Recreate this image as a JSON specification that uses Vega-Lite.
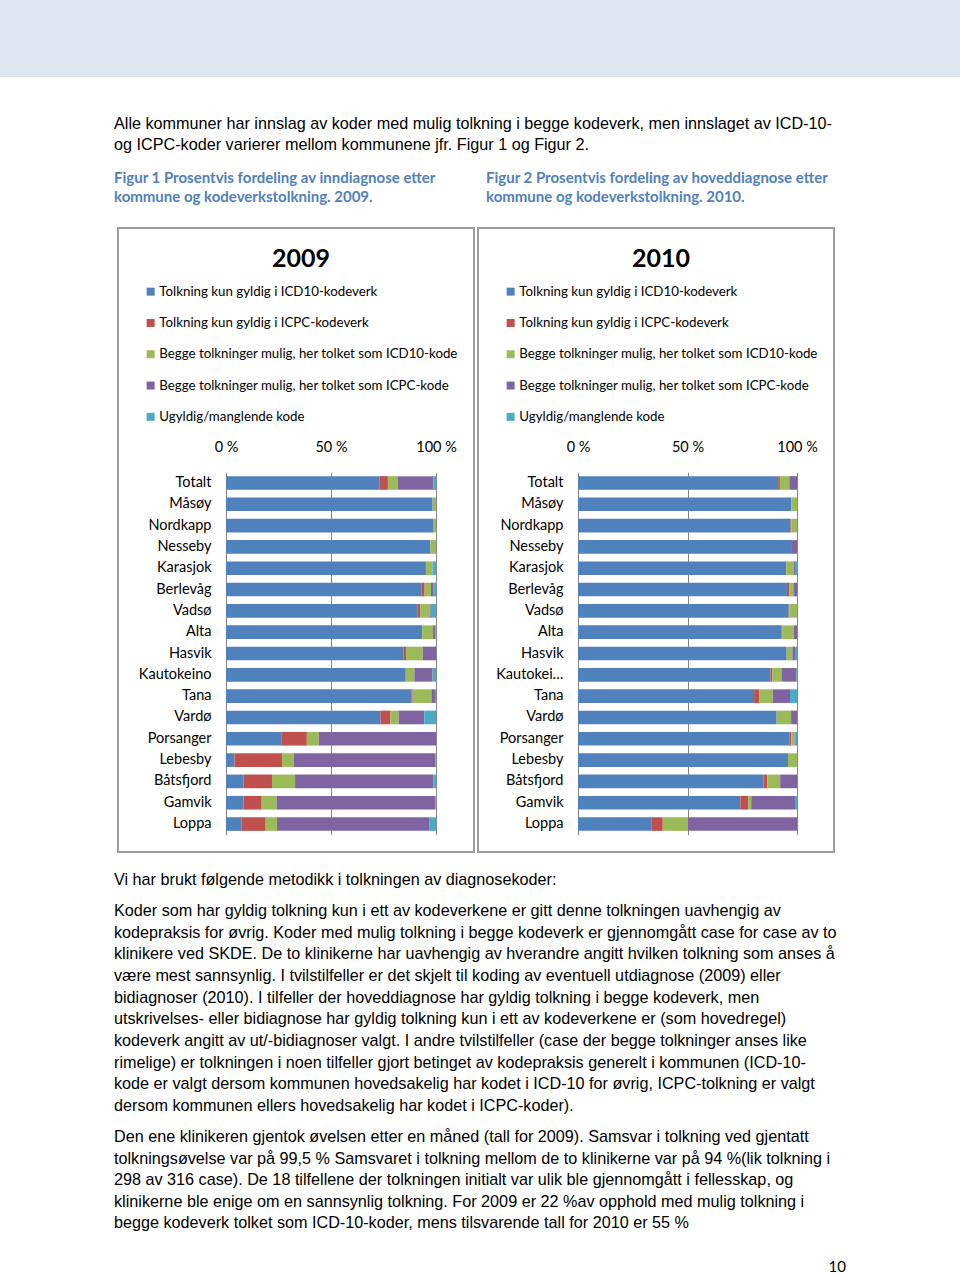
{
  "$schema": "https://vega.github.io/schema/vega-lite/v6.json",
  "padding": 0,
  "spacing": 0,
  "bounds": "flush",
  "background": "#ffffff",
  "config": {"view": {"stroke": null}, "font": "Liberation Sans"},
  "datasets": {
    "y2009": [
      {"k": "Totalt", "a": 73.0, "b": 4.1, "c": 4.8, "d": 16.8, "e": 1.3},
      {"k": "Måsøy", "a": 98.4, "b": 0, "c": 1.6, "d": 0, "e": 0},
      {"k": "Nordkapp", "a": 98.9, "b": 0, "c": 1.1, "d": 0, "e": 0},
      {"k": "Nesseby", "a": 97.3, "b": 0, "c": 2.7, "d": 0, "e": 0},
      {"k": "Karasjok", "a": 95.2, "b": 0, "c": 3.1, "d": 0, "e": 1.7},
      {"k": "Berlevåg", "a": 93.0, "b": 1.6, "c": 3.0, "d": 1.3, "e": 1.1},
      {"k": "Vadsø", "a": 91.3, "b": 1.2, "c": 4.5, "d": 0.5, "e": 2.5},
      {"k": "Alta", "a": 92.9, "b": 0.5, "c": 5.2, "d": 1.1, "e": 0.3},
      {"k": "Hasvik", "a": 84.6, "b": 1.1, "c": 8.0, "d": 6.3, "e": 0},
      {"k": "Kautokeino", "a": 85.6, "b": 0, "c": 4.1, "d": 8.7, "e": 1.6},
      {"k": "Tana", "a": 88.4, "b": 0.5, "c": 8.9, "d": 1.7, "e": 0.5},
      {"k": "Vardø", "a": 73.5, "b": 4.8, "c": 3.9, "d": 12.2, "e": 5.6},
      {"k": "Porsanger", "a": 26.3, "b": 12.2, "c": 5.7, "d": 55.8, "e": 0},
      {"k": "Lebesby", "a": 4.0, "b": 22.7, "c": 5.5, "d": 67.5, "e": 0.3},
      {"k": "Båtsfjord", "a": 8.4, "b": 13.5, "c": 11.0, "d": 65.8, "e": 1.3},
      {"k": "Gamvik", "a": 8.4, "b": 8.6, "c": 7.1, "d": 75.6, "e": 0.3},
      {"k": "Loppa", "a": 7.3, "b": 11.6, "c": 5.4, "d": 72.4, "e": 3.3}
    ],
    "y2010": [
      {"k": "Totalt", "a": 91.4, "b": 0.8, "c": 4.3, "d": 3.5, "e": 0},
      {"k": "Måsøy", "a": 97.4, "b": 0, "c": 2.6, "d": 0, "e": 0},
      {"k": "Nordkapp", "a": 97.0, "b": 0.4, "c": 2.6, "d": 0, "e": 0},
      {"k": "Nesseby", "a": 97.7, "b": 0, "c": 0, "d": 2.3, "e": 0},
      {"k": "Karasjok", "a": 95.1, "b": 0, "c": 3.4, "d": 0.6, "e": 0.9},
      {"k": "Berlevåg", "a": 95.4, "b": 1.0, "c": 2.0, "d": 1.6, "e": 0},
      {"k": "Vadsø", "a": 96.2, "b": 0.3, "c": 3.5, "d": 0, "e": 0},
      {"k": "Alta", "a": 92.9, "b": 0.3, "c": 5.4, "d": 1.4, "e": 0},
      {"k": "Hasvik", "a": 95.3, "b": 0, "c": 2.6, "d": 1.2, "e": 0.9},
      {"k": "Kautokeino", "a": 87.9, "b": 0.9, "c": 4.1, "d": 6.8, "e": 0.3},
      {"k": "Tana", "a": 80.4, "b": 2.3, "c": 6.2, "d": 7.9, "e": 3.2},
      {"k": "Vardø", "a": 90.7, "b": 0, "c": 6.6, "d": 2.7, "e": 0},
      {"k": "Porsanger", "a": 96.5, "b": 0.9, "c": 1.5, "d": 0.5, "e": 0.6},
      {"k": "Lebesby", "a": 95.9, "b": 0, "c": 4.1, "d": 0, "e": 0},
      {"k": "Båtsfjord", "a": 84.7, "b": 1.8, "c": 5.8, "d": 7.7, "e": 0},
      {"k": "Gamvik", "a": 74.1, "b": 3.6, "c": 1.4, "d": 20.0, "e": 0.9},
      {"k": "Loppa", "a": 33.7, "b": 5.0, "c": 11.5, "d": 49.8, "e": 0}
    ],
    "txt": [
      {"b": "intro", "c": 0, "l": 0, "t": "Alle kommuner har innslag av koder med mulig tolkning i begge kodeverk, men innslaget av ICD-10-"},
      {"b": "intro", "c": 0, "l": 1, "t": "og ICPC-koder varierer mellom kommunene jfr. Figur 1 og Figur 2."},
      {"b": "cap", "c": 0, "l": 0, "t": "Figur 1 Prosentvis fordeling av inndiagnose etter"},
      {"b": "cap", "c": 0, "l": 1, "t": "kommune og kodeverkstolkning. 2009."},
      {"b": "cap", "c": 1, "l": 0, "t": "Figur 2 Prosentvis fordeling av hoveddiagnose etter"},
      {"b": "cap", "c": 1, "l": 1, "t": "kommune og kodeverkstolkning. 2010."},
      {"b": "p1", "c": 0, "l": 0, "t": "Vi har brukt følgende metodikk i tolkningen av diagnosekoder:"},
      {"b": "p2", "c": 0, "l": 0, "t": "Koder som har gyldig tolkning kun i ett av kodeverkene er gitt denne tolkningen uavhengig av"},
      {"b": "p2", "c": 0, "l": 1, "t": "kodepraksis for øvrig. Koder med mulig tolkning i begge kodeverk er gjennomgått case for case av to"},
      {"b": "p2", "c": 0, "l": 2, "t": "klinikere ved SKDE. De to klinikerne har uavhengig av hverandre angitt hvilken tolkning som anses å"},
      {"b": "p2", "c": 0, "l": 3, "t": "være mest sannsynlig. I tvilstilfeller er det skjelt til koding av eventuell utdiagnose (2009) eller"},
      {"b": "p2", "c": 0, "l": 4, "t": "bidiagnoser (2010). I tilfeller der hoveddiagnose har gyldig tolkning i begge kodeverk, men"},
      {"b": "p2", "c": 0, "l": 5, "t": "utskrivelses- eller bidiagnose har gyldig tolkning kun i ett av kodeverkene er (som hovedregel)"},
      {"b": "p2", "c": 0, "l": 6, "t": "kodeverk angitt av ut/-bidiagnoser valgt. I andre tvilstilfeller (case der begge tolkninger anses like"},
      {"b": "p2", "c": 0, "l": 7, "t": "rimelige) er tolkningen i noen tilfeller gjort betinget av kodepraksis generelt i kommunen (ICD-10-"},
      {"b": "p2", "c": 0, "l": 8, "t": "kode er valgt dersom kommunen hovedsakelig har kodet i ICD-10 for øvrig, ICPC-tolkning er valgt"},
      {"b": "p2", "c": 0, "l": 9, "t": "dersom kommunen ellers hovedsakelig har kodet i ICPC-koder)."},
      {"b": "p3", "c": 0, "l": 0, "t": "Den ene klinikeren gjentok øvelsen etter en måned (tall for 2009). Samsvar i tolkning ved gjentatt"},
      {"b": "p3", "c": 0, "l": 1, "t": "tolkningsøvelse var på 99,5 % Samsvaret i tolkning mellom de to klinikerne var på 94 %(lik tolkning i"},
      {"b": "p3", "c": 0, "l": 2, "t": "298 av 316 case). De 18 tilfellene der tolkningen initialt var ulik ble gjennomgått i fellesskap, og"},
      {"b": "p3", "c": 0, "l": 3, "t": "klinikerne ble enige om en sannsynlig tolkning. For 2009 er 22 %av opphold med mulig tolkning i"},
      {"b": "p3", "c": 0, "l": 4, "t": "begge kodeverk tolket som ICD-10-koder, mens tilsvarende tall for 2010 er 55 %"},
      {"b": "pg", "c": 1, "l": 0, "t": "10"}
    ]
  },
  "vconcat": [
    {
      "width": 960, "height": 77,
      "view": {"fill": "#dce5f0", "stroke": null},
      "data": {"values": []},
      "mark": "point"
    },
    {
      "hconcat": [
        {
          "width": 114, "height": 1,
          "view": {"stroke": null},
          "data": {"values": []},
          "mark": "point"
        },
        {
          "vconcat": [
            {
              "width": 840, "height": 150,
              "view": {"stroke": null},
              "data": {"name": "txt"},
              "layer": [
                {
                  "transform": [{"filter": "datum.b == 'intro'"}],
                  "mark": {"type": "text", "align": "left", "baseline": "middle", "font": "Liberation Sans", "fontSize": 16.2, "color": "#000000"},
                  "encoding": {
                    "x": {"field": "c", "type": "quantitative", "axis": null, "scale": {"domain": [0, 1], "range": [0, 372], "nice": false, "zero": false}},
                    "y": {"field": "l", "type": "quantitative", "axis": null, "scale": {"domain": [0, 1], "range": [47, 68], "nice": false, "zero": false}},
                    "text": {"field": "t"}
                  }
                },
                {
                  "transform": [{"filter": "datum.b == 'cap'"}],
                  "mark": {"type": "text", "align": "left", "baseline": "middle", "font": "Lato", "fontWeight": "bold", "fontSize": 15, "color": "#4f81bd"},
                  "encoding": {
                    "x": {"field": "c", "type": "quantitative", "axis": null, "scale": {"domain": [0, 1], "range": [0, 372], "nice": false, "zero": false}},
                    "y": {"field": "l", "type": "quantitative", "axis": null, "scale": {"domain": [0, 1], "range": [101, 120], "nice": false, "zero": false}},
                    "text": {"field": "t"}
                  }
                }
              ],
              "resolve": {"scale": {"y": "independent"}}
            },
            {
              "hconcat": [
                {
                  "width": 4, "height": 624,
                  "view": {"stroke": null},
                  "data": {"values": []},
                  "mark": "point"
                },
                {
                  "width": 356, "height": 624,
                  "view": {"stroke": "#9c9c9c", "strokeWidth": 2},
                  "data": {"name": "y2009"},
                  "transform": [{"fold": ["a", "b", "c", "d", "e"], "as": ["cat", "pct"]}],
                  "mark": {"type": "bar"},
                  "encoding": {
                    "y": {"field": "k", "type": "nominal", "sort": null, "title": null,
                      "scale": {"range": [244.3, 606.7], "paddingInner": 0.36, "paddingOuter": 0.18},
                      "axis": {"orient": "left", "offset": -108, "ticks": false, "labelPadding": 15, "domainColor": "#868686", "domainWidth": 1, "labelFont": "Lato", "labelFontSize": 14.5, "labelColor": "#000000", "grid": false, "labelLimit": 200}},
                    "x": {"field": "pct", "type": "quantitative", "stack": "zero", "title": null,
                      "scale": {"domain": [0, 100], "range": [108, 318], "nice": false},
                      "axis": {"orient": "top", "offset": -230, "values": [0, 50, 100], "labelExpr": "datum.value + ' %'", "domain": false, "ticks": false, "labelPadding": 4, "grid": true, "gridColor": "#868686", "gridWidth": 1, "labelFont": "Lato", "labelFontSize": 14.5, "labelColor": "#000000", "labelFlush": false}},
                    "color": {"field": "cat", "type": "nominal",
                      "scale": {"domain": ["a", "b", "c", "d", "e"], "range": ["#4f81bd", "#c0504d", "#9bbb59", "#8064a2", "#4bacc6"]},
                      "legend": {"orient": "none", "legendX": 26, "legendY": 19, "direction": "vertical", "title": "2009", "titleFont": "Lato", "titleFontSize": 25, "titleFontWeight": "bold", "titleColor": "#000000", "titleAnchor": "middle", "titlePadding": 13, "labelFont": "Lato", "labelFontSize": 13.3, "labelColor": "#000000", "labelLimit": 400, "labelOffset": 2, "symbolType": "square", "symbolSize": 64, "symbolStrokeWidth": 0, "rowPadding": 17.3,
                        "labelExpr": "datum.label == 'a' ? 'Tolkning kun gyldig i ICD10-kodeverk' : datum.label == 'b' ? 'Tolkning kun gyldig i ICPC-kodeverk' : datum.label == 'c' ? 'Begge tolkninger mulig, her tolket som ICD10-kode' : datum.label == 'd' ? 'Begge tolkninger mulig, her tolket som ICPC-kode' : 'Ugyldig/manglende kode'"}},
                    "order": {"field": "cat", "type": "nominal", "sort": "ascending"}
                  }
                },
                {
                  "width": 4, "height": 624,
                  "view": {"stroke": null},
                  "data": {"values": []},
                  "mark": "point"
                },
                {
                  "width": 356, "height": 624,
                  "view": {"stroke": "#9c9c9c", "strokeWidth": 2},
                  "data": {"name": "y2010"},
                  "transform": [{"fold": ["a", "b", "c", "d", "e"], "as": ["cat", "pct"]}],
                  "mark": {"type": "bar"},
                  "encoding": {
                    "y": {"field": "k", "type": "nominal", "sort": null, "title": null,
                      "scale": {"range": [244.3, 606.7], "paddingInner": 0.36, "paddingOuter": 0.18},
                      "axis": {"orient": "left", "offset": -100, "ticks": false, "labelPadding": 15, "domainColor": "#868686", "domainWidth": 1, "labelFont": "Lato", "labelFontSize": 14.5, "labelColor": "#000000", "grid": false, "labelLimit": 68}},
                    "x": {"field": "pct", "type": "quantitative", "stack": "zero", "title": null,
                      "scale": {"domain": [0, 100], "range": [100, 319], "nice": false},
                      "axis": {"orient": "top", "offset": -230, "values": [0, 50, 100], "labelExpr": "datum.value + ' %'", "domain": false, "ticks": false, "labelPadding": 4, "grid": true, "gridColor": "#868686", "gridWidth": 1, "labelFont": "Lato", "labelFontSize": 14.5, "labelColor": "#000000", "labelFlush": false}},
                    "color": {"field": "cat", "type": "nominal",
                      "scale": {"domain": ["a", "b", "c", "d", "e"], "range": ["#4f81bd", "#c0504d", "#9bbb59", "#8064a2", "#4bacc6"]},
                      "legend": {"orient": "none", "legendX": 26, "legendY": 19, "direction": "vertical", "title": "2010", "titleFont": "Lato", "titleFontSize": 25, "titleFontWeight": "bold", "titleColor": "#000000", "titleAnchor": "middle", "titlePadding": 13, "labelFont": "Lato", "labelFontSize": 13.3, "labelColor": "#000000", "labelLimit": 400, "labelOffset": 2, "symbolType": "square", "symbolSize": 64, "symbolStrokeWidth": 0, "rowPadding": 17.3,
                        "labelExpr": "datum.label == 'a' ? 'Tolkning kun gyldig i ICD10-kodeverk' : datum.label == 'b' ? 'Tolkning kun gyldig i ICPC-kodeverk' : datum.label == 'c' ? 'Begge tolkninger mulig, her tolket som ICD10-kode' : datum.label == 'd' ? 'Begge tolkninger mulig, her tolket som ICPC-kode' : 'Ugyldig/manglende kode'"}},
                    "order": {"field": "cat", "type": "nominal", "sort": "ascending"}
                  }
                }
              ],
              "spacing": 0,
              "bounds": "flush",
              "resolve": {"scale": {"color": "independent"}, "legend": {"color": "independent"}}
            },
            {
              "width": 840, "height": 424,
              "view": {"stroke": null},
              "data": {"name": "txt"},
              "layer": [
                {
                  "transform": [{"filter": "datum.b == 'p1'"}],
                  "mark": {"type": "text", "align": "left", "baseline": "middle", "font": "Liberation Sans", "fontSize": 16.2, "color": "#000000"},
                  "encoding": {
                    "x": {"field": "c", "type": "quantitative", "axis": null, "scale": {"domain": [0, 1], "range": [0, 732], "nice": false, "zero": false}},
                    "y": {"field": "l", "type": "quantitative", "axis": null, "scale": {"domain": [0, 1], "range": [27, 48.7], "nice": false, "zero": false}},
                    "text": {"field": "t"}
                  }
                },
                {
                  "transform": [{"filter": "datum.b == 'p2'"}],
                  "mark": {"type": "text", "align": "left", "baseline": "middle", "font": "Liberation Sans", "fontSize": 16.2, "color": "#000000"},
                  "encoding": {
                    "x": {"field": "c", "type": "quantitative", "axis": null, "scale": {"domain": [0, 1], "range": [0, 732], "nice": false, "zero": false}},
                    "y": {"field": "l", "type": "quantitative", "axis": null, "scale": {"domain": [0, 9], "range": [58, 253], "nice": false, "zero": false}},
                    "text": {"field": "t"}
                  }
                },
                {
                  "transform": [{"filter": "datum.b == 'p3'"}],
                  "mark": {"type": "text", "align": "left", "baseline": "middle", "font": "Liberation Sans", "fontSize": 16.2, "color": "#000000"},
                  "encoding": {
                    "x": {"field": "c", "type": "quantitative", "axis": null, "scale": {"domain": [0, 1], "range": [0, 732], "nice": false, "zero": false}},
                    "y": {"field": "l", "type": "quantitative", "axis": null, "scale": {"domain": [0, 4], "range": [284, 370], "nice": false, "zero": false}},
                    "text": {"field": "t"}
                  }
                },
                {
                  "transform": [{"filter": "datum.b == 'pg'"}],
                  "mark": {"type": "text", "align": "right", "baseline": "middle", "font": "Lato", "fontSize": 15, "color": "#000000"},
                  "encoding": {
                    "x": {"field": "c", "type": "quantitative", "axis": null, "scale": {"domain": [0, 1], "range": [0, 732], "nice": false, "zero": false}},
                    "y": {"field": "l", "type": "quantitative", "axis": null, "scale": {"domain": [0, 1], "range": [414, 436], "nice": false, "zero": false}},
                    "text": {"field": "t"}
                  }
                }
              ],
              "resolve": {"scale": {"y": "independent"}}
            }
          ],
          "spacing": 0,
          "bounds": "full"
        }
      ],
      "spacing": 0,
      "bounds": "flush"
    }
  ]
}
